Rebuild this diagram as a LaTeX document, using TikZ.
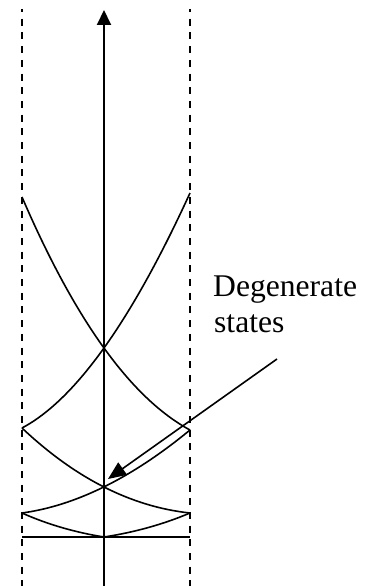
\documentclass[tikz,border=0pt]{standalone}
\usepackage{fontspec}
\setmainfont{Liberation Serif}
\usetikzlibrary{arrows.meta}
\begin{document}
\begin{tikzpicture}[x=1pt,y=-1pt,
  zoneline/.style={line width=2pt,dash pattern=on 7pt off 6.7pt,dash phase=4pt},
  axisline/.style={line width=2pt,-{Triangle[length=15pt,width=14pt]}},
  band/.style={line width=1.6pt},
  pointer/.style={line width=1.6pt,-{Triangle[length=18pt,width=15pt]}},
  lbl/.style={inner sep=0pt,anchor=base west,font=\fontsize{31.6}{36}\selectfont}]
\useasboundingbox (0,0) rectangle (378,586);
% zone boundaries and energy axis
\coordinate (zlt) at (22,9);   \coordinate (zlb) at (22,586);
\coordinate (zrt) at (190,9);  \coordinate (zrb) at (190,586);
\coordinate (axb) at (104,586); \coordinate (axt) at (104,10);
\draw[zoneline] (zlt) -- (zlb);
\draw[zoneline] (zrt) -- (zrb);
\draw[axisline] (axb) -- (axt);
% band points
\coordinate (L1) at (22,197);  \coordinate (R1) at (190,193);
\coordinate (L2) at (22,428);  \coordinate (R2) at (190,430);
\coordinate (L3) at (22,513);  \coordinate (R3) at (190,513);
\coordinate (C4) at (104,537);
\coordinate (L4) at (22,537);  \coordinate (R4) at (190,537);
% bands
\draw[band] (L1) .. controls (75.3,320.7) and (131.3,398.3) .. (R2);
\draw[band] (R1) .. controls (131.3,321.3) and (75.3,399.7) .. (L2);
\draw[band] (L2) .. controls (75.3,478.3) and (131.3,506.7) .. (R3);
\draw[band] (R2) .. controls (131.3,478.3) and (75.3,505.7) .. (L3);
\draw[band] (L3) .. controls (47.3,524.3) and (74.7,532.3) .. (C4);
\draw[band] (R3) .. controls (163.3,524.3) and (134.7,532.3) .. (C4);
\draw[band] (L4) -- (R4);
% label and pointer
\node[lbl] (t1) at (213,296) {Degenerate};
\node[lbl] (t2) at (214,332) {states};
\coordinate (tail) at (277,359);
\coordinate (tip) at (108,479);
\draw[pointer] (tail) -- (tip);
\end{tikzpicture}
\end{document}
